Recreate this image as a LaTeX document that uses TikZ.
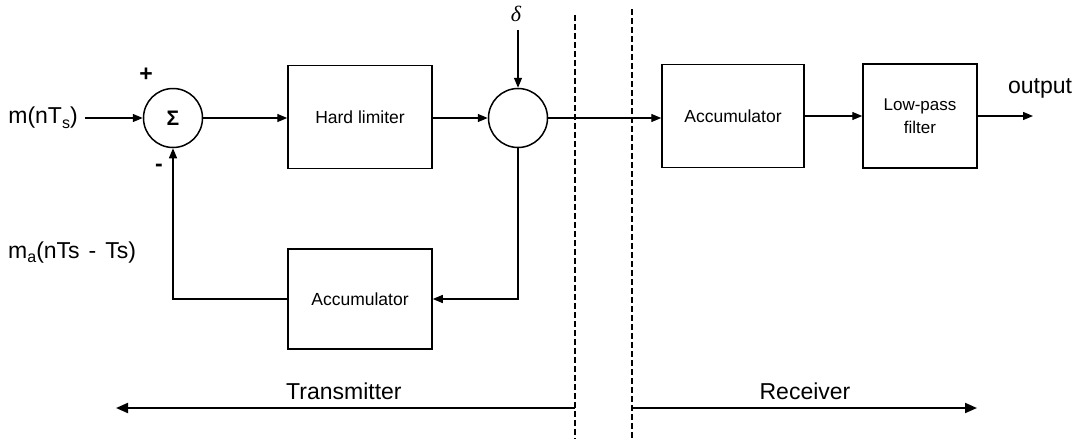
\documentclass[tikz,border=0pt]{standalone}
\usepackage{fontspec}
\setmainfont{Liberation Sans}
\newfontfamily\seriffont{Liberation Serif}
\usetikzlibrary{arrows.meta}
\begin{document}
\begin{tikzpicture}[x=1pt,y=-1pt,
  conn/.style={line width=1.3pt,-{Triangle[length=10pt,width=8pt]}},
  blk/.style={draw,line width=1.5pt,inner sep=0pt,align=center,font=\fontsize{17.5}{19}\selectfont},
  junc/.style={draw,circle,line width=1.5pt,minimum size=59pt,inner sep=0pt},
  lbl/.style={inner sep=0pt,font=\fontsize{23}{25}\selectfont},
  sep/.style={line width=1.8pt,dash pattern=on 6pt off 3pt},
  span/.style={line width=2pt,-{Triangle[length=12pt,width=10pt]}}]
\useasboundingbox (0,0) rectangle (1078,439);

% nodes
\node[lbl] (min) at (43,118) {m(nT\raisebox{-0.35ex}{\fontsize{16}{16}\selectfont s})};
\node[junc,font=\fontsize{21}{21}\selectfont\bfseries] (sum) at (173,118) {Σ};
\node[blk,minimum width=144pt,minimum height=103pt] (hl) at (360,117) {Hard limiter};
\node[junc] (mix) at (518,118) {};
\node[blk,minimum width=144pt,minimum height=100pt] (acct) at (360,299) {Accumulator};
\node[blk,minimum width=142pt,minimum height=103pt] (accr) at (733,116) {Accumulator};
\node[blk,minimum width=114pt,minimum height=104pt,font=\fontsize{17}{23}\selectfont] (lpf) at (920,116) {Low-pass\\filter};

\node[lbl,font=\fontsize{23}{25}\bfseries] (plus) at (146,75) {+};
\node[lbl,font=\fontsize{23}{25}\bfseries] (minus) at (159,168) {-};
\node[lbl,font=\fontsize{22}{24}\seriffont\itshape] (delta) at (516,14) {δ};
\node[lbl] (out) at (1040,88) {output};
\node[lbl,anchor=base west] (ma) at (8,258) {m\raisebox{-0.35ex}{\fontsize{16}{16}\selectfont a}(nTs\hspace{9pt}-\hspace{9pt}Ts)};
\node[lbl,anchor=base west] (tx) at (286,399) {Transmitter};
\node[lbl,anchor=base] (rx) at (805,399) {Receiver};

\coordinate (dtop) at (518,30);
\coordinate (outend) at (1033,116);
\coordinate (fb1) at (518,299);
\coordinate (fb2) at (173,299);
\coordinate (d1t) at (575,15);
\coordinate (d1b) at (575,439);
\coordinate (d2t) at (632,9);
\coordinate (d2b) at (632,439);
\coordinate (txl) at (116,408);
\coordinate (txr) at (575,408);
\coordinate (rxl) at (632,408);
\coordinate (rxr) at (977,408);

% connectors
\draw[conn] (min.east) ++(7,0) -- (sum.west);
\draw[conn] (sum.east) -- (hl.west |- sum.east);
\draw[conn] (hl.east |- mix.west) -- (mix.west);
\draw[conn] (dtop) -- (mix.north);
\draw[conn] (mix.east) -- (accr.west |- mix.east);
\draw[conn] (accr.east) -- (lpf.west);
\draw[conn] (lpf.east) -- (outend);
\draw[conn] (mix.south) -- (fb1) -- (acct.east);
\draw[conn] (acct.west) -- (fb2) -- (sum.south);

% separators
\draw[sep] (d1t) -- (d1b);
\draw[sep] (d2t) -- (d2b);
\draw[span] (txr) -- (txl);
\draw[span] (rxl) -- (rxr);
\end{tikzpicture}
\end{document}
